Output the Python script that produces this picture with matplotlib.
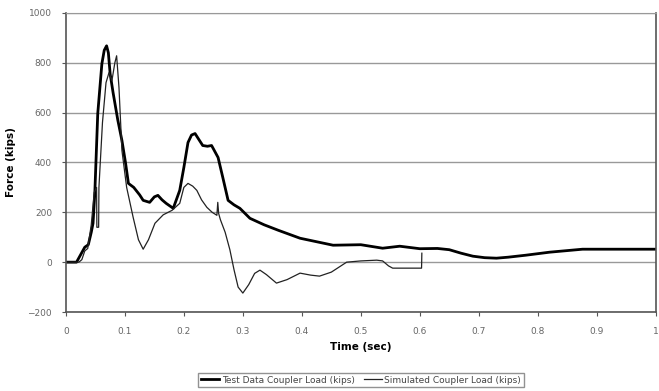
import numpy as np
import matplotlib
matplotlib.use("Agg")
import matplotlib.pyplot as plt

# test data coupler load (kips)
test_t = [0.0, 0.018, 0.025, 0.032, 0.038, 0.043, 0.046, 0.049, 0.054, 0.061, 0.065, 0.069,
          0.072, 0.075, 0.080, 0.088, 0.095, 0.101, 0.106, 0.115, 0.125, 0.131, 0.142, 0.150,
          0.156, 0.163, 0.170, 0.182, 0.193, 0.200, 0.207, 0.213, 0.219, 0.226, 0.232, 0.240,
          0.247, 0.250, 0.258, 0.266, 0.275, 0.285, 0.295, 0.312, 0.336, 0.36, 0.397, 0.453,
          0.50, 0.537, 0.566, 0.60, 0.63, 0.65, 0.67, 0.69, 0.71, 0.73, 0.75, 0.78, 0.82,
          0.876, 0.93, 1.0]
test_v = [0, 0, 30, 60, 70, 120, 156, 276, 596, 796, 850, 868,
          840, 756, 680, 570, 488, 400, 316, 300, 270, 248, 240, 262,
          268, 250, 236, 216, 288, 380, 480, 510, 516, 490, 468, 465,
          468, 455, 420, 340, 248, 230, 216, 176, 150, 128, 96, 68,
          70, 56, 64, 54, 55, 50, 36, 24, 18, 16, 20, 28, 40,
          52, 52, 52]

# simulated coupler load (kips)
sim_t = [0.0, 0.022, 0.027, 0.032, 0.037, 0.043, 0.048, 0.052, 0.0525, 0.0555, 0.056, 0.062,
         0.068, 0.073, 0.078, 0.083, 0.086, 0.090, 0.095, 0.103, 0.114, 0.123, 0.131, 0.140,
         0.151, 0.165, 0.180, 0.193, 0.200, 0.207, 0.215, 0.222, 0.230, 0.239, 0.248, 0.256,
         0.2575, 0.259, 0.262, 0.270, 0.278, 0.285, 0.292, 0.300, 0.310, 0.320, 0.329, 0.340,
         0.357, 0.375, 0.397, 0.415, 0.43, 0.45, 0.476, 0.50, 0.527, 0.537, 0.547, 0.554,
         0.603, 0.6035]
sim_v = [0, 0, 10, 45, 55, 150, 280, 300, 140, 140, 300, 560,
         720, 760, 728, 800, 828, 700, 448, 300, 180, 90, 52, 90,
         156, 190, 208, 236, 300, 316, 305, 288, 250, 220, 200, 188,
         240, 195, 170, 120, 50, -30, -100, -124, -90, -45, -32, -50,
         -84, -70, -44, -52, -56, -40, 0, 5, 8, 5, -15, -24,
         -24, 36]

fig = plt.figure(figsize=(6.59, 3.91), dpi=100)
ax = fig.add_axes([0.100, 0.202, 0.895, 0.765])

ax.plot(test_t, test_v, color="black", lw=2.0, label="Test Data Coupler Load (kips)")
ax.plot(sim_t, sim_v, color="#222222", lw=0.9, label="Simulated Coupler Load (kips)")

ax.set_xlim(0, 1)
ax.set_ylim(-200, 1000)
ax.set_xticks(np.arange(0, 1.01, 0.1))
ax.set_xticklabels(["0", "0.1", "0.2", "0.3", "0.4", "0.5", "0.6", "0.7", "0.8", "0.9", "1"])
ax.set_yticks(np.arange(-200, 1001, 200))
ax.yaxis.grid(True, color="#999999", lw=1.0)
ax.set_axisbelow(True)

ax.tick_params(labelsize=6.5, labelcolor="#666666", length=3, width=0.8, color="#555555")
ax.tick_params(axis="x", pad=8)
ax.tick_params(axis="y", pad=7)
for s in ["left", "bottom", "right"]:
    ax.spines[s].set_color("#555555")
    ax.spines[s].set_linewidth(1.2)
ax.spines["top"].set_color("#999999")

ax.set_xlabel("Time (sec)", fontsize=7.5, fontweight="bold", labelpad=4)
ax.set_ylabel("Force (kips)", fontsize=7.5, fontweight="bold", labelpad=8)

leg = fig.legend(loc="center", bbox_to_anchor=(0.548, 0.028), ncol=2, fontsize=6.5,
                 frameon=True, fancybox=False, edgecolor="#777777", handlelength=2.0,
                 columnspacing=1.0, borderpad=0.3, handletextpad=0.3)
for t in leg.get_texts():
    t.set_color("#444444")

fig.savefig("out.png", dpi=100)
